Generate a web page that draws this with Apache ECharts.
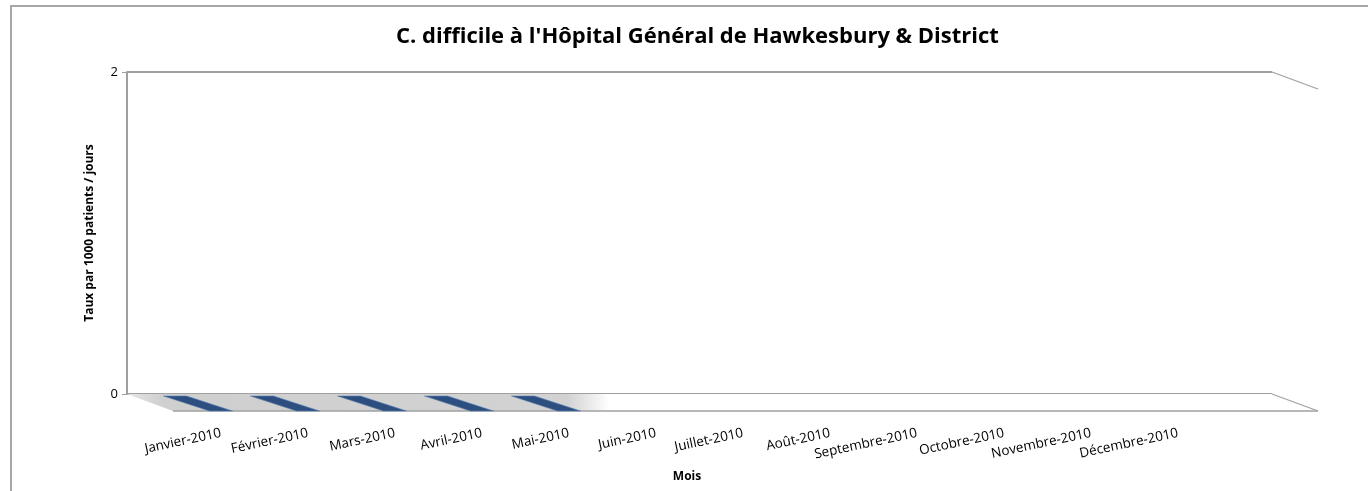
<!DOCTYPE html>
<html>
<head>
<meta charset="utf-8">
<script src="https://cdn.jsdelivr.net/npm/echarts@6/dist/echarts.min.js"></script>
<style>
  html, body { margin: 0; padding: 0; background: #fff; }
  #chart { width: 1368px; height: 491px; }
</style>
</head>
<body>
<div id="chart"></div>
<script>
const months = ['Janvier-2010', 'Février-2010', 'Mars-2010', 'Avril-2010', 'Mai-2010', 'Juin-2010',
  'Juillet-2010', 'Août-2010', 'Septembre-2010', 'Octobre-2010', 'Novembre-2010', 'Décembre-2010'];
const rates = [0, 0, 0, 0, 0, null, null, null, null, null, null, null];
const yTicks = [0, 2];

const FONT = '"Open Sans", "Noto Sans", sans-serif';
const DEPTH_X = 46;
const DEPTH_Y = 17;
const FRAME = '#a0a0a0';

let chart = echarts.init(document.getElementById('chart'), null, { renderer: 'canvas' });

// floor + right side edges of the 3d box, placed from the back-wall axes
function renderBox(params, api) {
  let bl = api.coord([0, yTicks[0]]);
  let br = api.coord([1, yTicks[0]]);
  let tr = api.coord([1, yTicks[1]]);
  let fl = [bl[0] + DEPTH_X, bl[1] + DEPTH_Y];
  let fr = [br[0] + DEPTH_X, br[1] + DEPTH_Y];
  return {
    type: 'group',
    children: [
      {
        type: 'polygon',
        shape: { points: [bl, br, fr, fl] },
        style: {
          fill: new echarts.graphic.LinearGradient(0, 0, 1, 0, [
            { offset: 0, color: '#e6e6e6' },
            { offset: 0.03, color: '#cfcfcf' },
            { offset: 0.37, color: '#d2d2d2' },
            { offset: 0.405, color: '#ffffff' },
            { offset: 1, color: '#ffffff' },
          ]),
        },
        z2: 1,
      },
      { type: 'line', shape: { x1: fl[0], y1: fl[1], x2: fr[0], y2: fr[1] }, style: { stroke: FRAME, lineWidth: 1.5 }, z2: 5 },
      { type: 'line', shape: { x1: br[0], y1: br[1], x2: fr[0], y2: fr[1] }, style: { stroke: FRAME, lineWidth: 1.2 }, z2: 5 },
      { type: 'line', shape: { x1: tr[0], y1: tr[1], x2: tr[0] + DEPTH_X, y2: tr[1] + DEPTH_Y }, style: { stroke: FRAME, lineWidth: 1.2 }, z2: 5 },
    ],
  };
}

// flat (zero height) bars: the top face seen from above, front edge on the front plane
function renderBar(params, api) {
  let v = api.value(1);
  if(v === null || isNaN(v)) {
    return null;
  }
  let p = api.coord([api.value(0), v]);
  let half = 11.5;
  let pts = [
    [p[0] - half - DEPTH_X, p[1] - DEPTH_Y + 2],
    [p[0] + half - DEPTH_X, p[1] - DEPTH_Y + 2],
    [p[0] + half, p[1]],
    [p[0] - half, p[1]],
  ];
  return {
    type: 'polygon',
    shape: { points: pts },
    style: { fill: '#2c4f80', stroke: '#5a7fb0', lineWidth: 0.6 },
    z2: 10,
  };
}

chart.setOption({
  animation: false,
  backgroundColor: '#fff',
  title: {
    text: "C. difficile à l'Hôpital Général de Hawkesbury & District",
    left: 391,
    top: 21,
    textStyle: { fontFamily: FONT, fontSize: 22, fontWeight: 'bold', color: '#000' },
  },
  graphic: [
    {
      type: 'rect',
      shape: { x: 11, y: 6, width: 1420, height: 520 },
      style: { fill: null, stroke: '#a6a6a6', lineWidth: 2 },
      silent: true,
    },
  ],
  grid: [
    { left: 127, right: 96, top: 72, bottom: 97 },
    { left: 177.5, right: 146.5, top: 89, bottom: 80 },
  ],
  xAxis: [
    { gridIndex: 0, type: 'value', min: 0, max: 1, show: false },
    {
      gridIndex: 1,
      type: 'category',
      data: months,
      axisLine: { show: false },
      axisTick: { show: false },
      axisLabel: {
        rotate: 12,
        margin: 22,
        interval: 0,
        fontFamily: FONT,
        fontSize: 13.5,
        color: '#000',
      },
      name: 'Mois',
      nameLocation: 'middle',
      nameGap: 60,
      nameTextStyle: { fontFamily: FONT, fontSize: 12, fontWeight: 'bold', color: '#000', padding: [0, 25, 0, 0] },
    },
  ],
  yAxis: [
    {
      gridIndex: 0,
      type: 'value',
      min: 0,
      max: 2,
      interval: 2,
      axisLine: { show: true, lineStyle: { color: FRAME, width: 2 } },
      axisTick: { show: true, length: 5, lineStyle: { color: FRAME, width: 1 } },
      axisLabel: { fontFamily: FONT, fontSize: 13, color: '#000', margin: 9 },
      splitLine: { show: true, lineStyle: { color: FRAME, width: 2 } },
      name: 'Taux par 1000 patients / jours',
      nameLocation: 'middle',
      nameGap: 31,
      nameTextStyle: { fontFamily: FONT, fontSize: 12, fontWeight: 'bold', color: '#000' },
    },
    { gridIndex: 1, type: 'value', min: 0, max: 2, show: false },
  ],
  series: [
    {
      type: 'custom',
      xAxisIndex: 0,
      yAxisIndex: 0,
      renderItem: renderBox,
      data: [[0, 0]],
      clip: false,
      silent: true,
      z: 1,
    },
    {
      type: 'custom',
      name: 'Taux',
      xAxisIndex: 1,
      yAxisIndex: 1,
      renderItem: renderBar,
      data: rates.map((v, i) => [i, v]),
      clip: false,
      z: 3,
    },
  ],
});
</script>
</body>
</html>
